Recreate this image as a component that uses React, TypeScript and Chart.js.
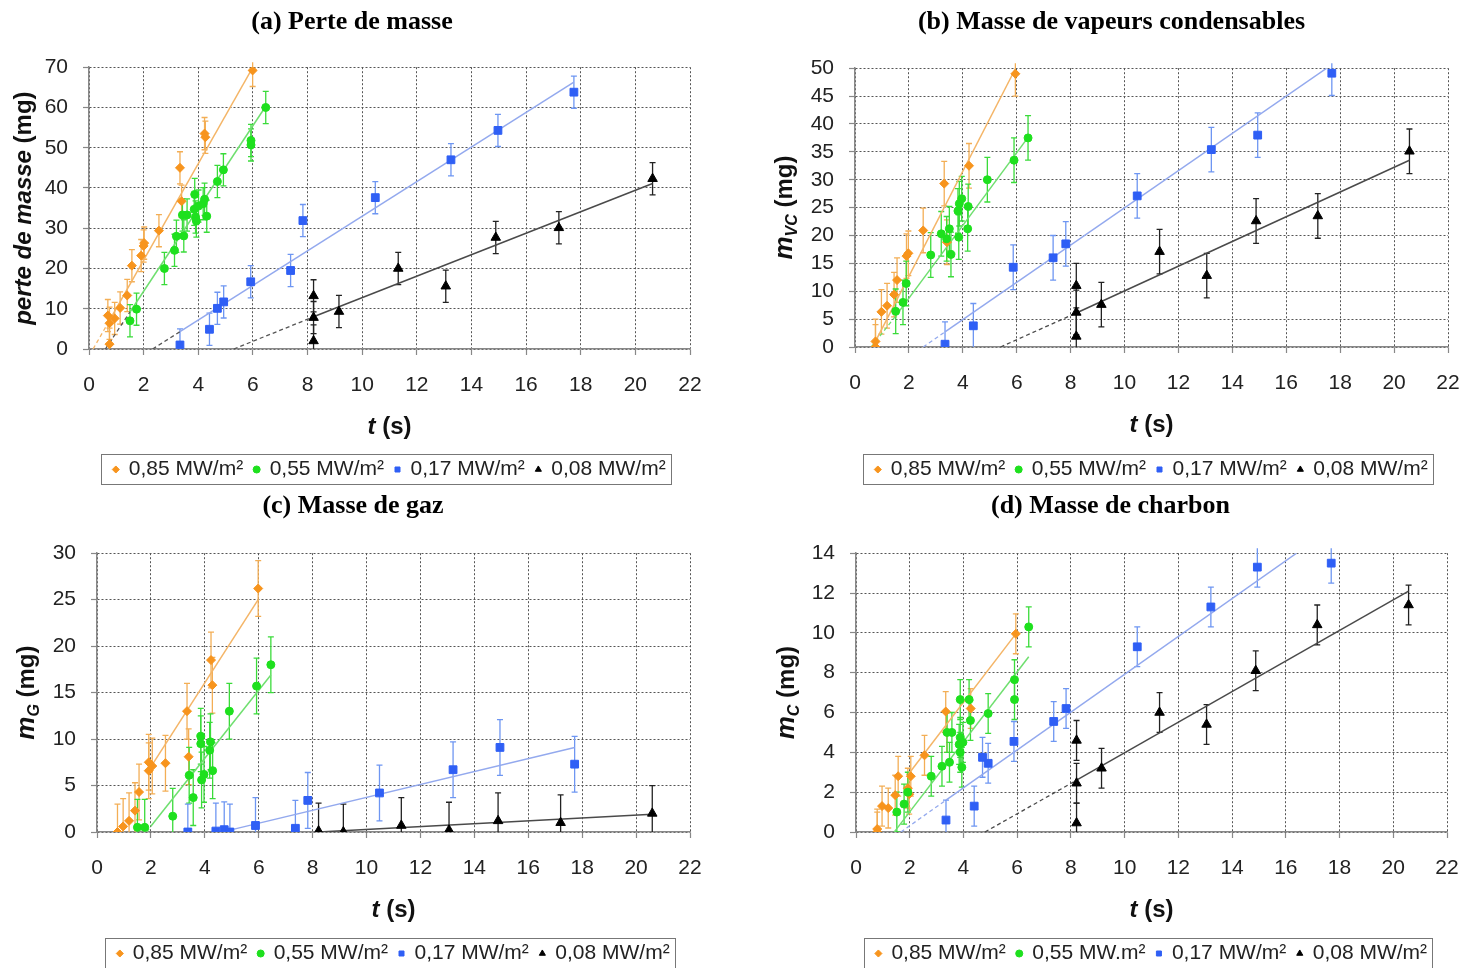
import React, { useEffect, useRef } from 'react';
import { Chart, registerables } from 'chart.js';

Chart.register(...registerables);

// ---------- (a) Perte de masse ----------
const A_X_085 = [0.69, 0.75, 0.75, 0.94, 1.14, 1.40, 1.57, 1.91, 2.0, 2.02, 2.56, 3.33, 3.39, 4.23, 4.26, 5.99];
const A_Y_085 = [8.3, 6.4, 1.2, 7.6, 10.2, 13.3, 20.7, 23.2, 25.6, 26.3, 29.4, 45.0, 36.7, 53.5, 52.6, 69.2];
const A_X_055 = [1.50, 1.74, 2.76, 3.13, 3.20, 3.42, 3.47, 3.59, 3.87, 3.85, 3.90, 3.93, 4.01, 4.18, 4.23, 4.31, 4.70, 4.92, 5.93, 5.93, 6.47];
const A_Y_055 = [7.0, 9.9, 20.0, 24.5, 28.0, 33.3, 28.1, 33.3, 38.4, 34.7, 32.8, 31.8, 35.5, 36.1, 37.2, 33.0, 41.6, 44.5, 51.8, 50.7, 60.0];
const A_X_017 = [3.33, 4.41, 4.70, 4.93, 5.92, 7.38, 7.83, 10.48, 13.25, 14.97, 17.75];
const A_Y_017 = [1.0, 4.9, 10.1, 11.7, 16.7, 19.5, 31.9, 37.6, 47.0, 54.3, 63.8];
const A_X_008 = [8.22, 8.22, 8.22, 9.15, 11.32, 13.06, 14.89, 17.20, 20.63];
const A_Y_008 = [13.2, 7.8, 2.0, 9.3, 20.0, 15.6, 27.7, 30.1, 42.3];
// fitted lines: [x at y=0 (dashed start), solid start, solid end]
const A_FX_085 = [0.15, 0.7, 6.0];
const A_FY_085 = [0, 6.5, 70];
const A_FX_055 = [0.6, 1.5, 6.47];
const A_FY_055 = [0, 9.2, 60.3];
const A_FX_017 = [2.33, 3.33, 17.75];
const A_FY_017 = [0, 4.3, 66.3];
const A_FX_008 = [5.3, 8.22, 20.63];
const A_FY_008 = [0, 8.0, 41.1];

// ---------- (b) Masse de vapeurs condensables ----------
const B_X_085 = [0.76, 0.76, 0.98, 1.19, 1.45, 1.56, 1.91, 1.98, 2.53, 3.31, 3.41, 4.23, 5.95];
const B_Y_085 = [0.0, 1.0, 6.3, 7.4, 9.4, 12.0, 16.3, 16.8, 20.9, 29.3, 18.8, 32.5, 49.0];
const B_X_055 = [1.51, 1.78, 1.90, 2.81, 3.20, 3.40, 3.50, 3.56, 3.82, 3.87, 3.96, 3.85, 4.20, 4.18, 4.91, 5.90, 6.42];
const B_Y_055 = [6.4, 8.0, 11.4, 16.5, 20.3, 19.4, 21.2, 16.6, 24.4, 25.7, 26.6, 19.7, 25.2, 21.2, 30.0, 33.5, 37.5];
const B_X_017 = [3.34, 4.39, 5.87, 7.35, 7.82, 10.47, 13.22, 14.94, 17.69];
const B_Y_017 = [0.5, 3.8, 14.3, 16.0, 18.5, 27.1, 35.4, 38.0, 49.1];
const B_X_008 = [8.21, 8.21, 8.21, 9.14, 11.30, 13.05, 14.88, 17.17, 20.57];
const B_Y_008 = [11.0, 6.2, 1.9, 7.6, 17.1, 12.8, 22.6, 23.5, 35.1];
const B_FX_085 = [0.65, 0.76, 5.95];
const B_FY_085 = [0, 1.0, 49.9];
const B_FX_055 = [0.6, 1.5, 6.42];
const B_FY_055 = [0, 5.5, 37.6];
const B_FX_017 = [2.53, 3.34, 17.5];
const B_FY_017 = [0, 2.7, 50];
const B_FX_008 = [5.4, 8.21, 20.57];
const B_FY_008 = [0, 6.1, 33.5];

// ---------- (c) Masse de gaz ----------
const C_X_085 = [0.76, 0.97, 1.19, 1.41, 1.56, 1.92, 1.92, 2.05, 2.54, 3.34, 3.40, 4.23, 4.28, 5.98];
const C_Y_085 = [0.0, 0.6, 1.2, 2.3, 4.3, 6.6, 7.5, 7.1, 7.4, 13.0, 8.1, 18.5, 15.8, 26.2];
const C_X_055 = [1.50, 1.77, 2.81, 3.42, 3.57, 3.85, 3.85, 3.88, 3.97, 4.18, 4.21, 4.29, 4.91, 5.92, 6.45];
const C_Y_055 = [0.5, 0.5, 1.7, 6.1, 3.7, 10.3, 9.5, 5.6, 6.2, 8.8, 9.7, 6.6, 13.0, 15.7, 18.0];
const C_X_017 = [3.37, 4.41, 4.72, 4.93, 5.88, 7.36, 7.82, 10.48, 13.21, 14.95, 17.72];
const C_Y_017 = [0.0, 0.1, 0.25, 0.0, 0.7, 0.4, 3.4, 4.2, 6.7, 9.1, 7.3];
const C_X_008 = [8.22, 9.14, 11.29, 13.06, 14.88, 17.20, 20.60];
const C_Y_008 = [0.1, 0.0, 0.7, 0.2, 1.2, 1.0, 2.0];
const C_FX_085 = [1.95, 1.95, 5.98];
const C_FY_085 = [6.8, 6.8, 25.0];
const C_FX_055 = [1.85, 1.99, 6.45];
const C_FY_055 = [0, 0.6, 16.9];
const C_FX_017 = [4.93, 4.93, 17.72];
const C_FY_017 = [0.2, 0.2, 9.1];
const C_FX_008 = [8.22, 8.22, 20.6];
const C_FY_008 = [0, 0, 1.9];

// ---------- (d) Masse de charbon ----------
const D_X_085 = [0.79, 0.79, 0.97, 1.20, 1.46, 1.57, 1.93, 1.98, 2.04, 2.55, 3.34, 3.38, 4.27, 5.95];
const D_Y_085 = [0.0, 0.15, 1.3, 1.2, 1.85, 2.8, 2.2, 1.9, 2.8, 3.85, 6.05, 5.0, 6.2, 9.95];
const D_X_055 = [1.52, 1.79, 1.93, 2.80, 3.20, 3.39, 3.57, 3.48, 3.84, 3.88, 3.98, 3.88, 3.94, 3.88, 4.21, 4.26, 4.92, 5.90, 5.90, 6.43];
const D_Y_055 = [1.0, 1.4, 2.0, 2.8, 3.3, 5.0, 5.0, 3.5, 4.4, 4.75, 4.5, 4.0, 3.25, 6.65, 6.65, 5.6, 5.95, 7.65, 6.65, 10.3];
const D_X_017 = [3.35, 4.40, 4.71, 4.92, 5.88, 7.36, 7.82, 10.47, 13.21, 14.94, 17.69];
const D_Y_017 = [0.6, 1.3, 3.75, 3.45, 4.55, 5.55, 6.2, 9.3, 11.3, 13.3, 13.5];
const D_X_008 = [8.21, 8.21, 8.21, 9.14, 11.30, 13.05, 14.88, 17.17, 20.57];
const D_Y_008 = [4.6, 2.45, 0.45, 3.2, 6.0, 5.4, 8.1, 10.4, 11.4];
const D_FX_085 = [1.95, 1.95, 5.95];
const D_FY_085 = [2.9, 2.9, 9.95];
const D_FX_055 = [1.42, 1.52, 6.43];
const D_FY_055 = [0, 0.17, 8.8];
const D_FX_017 = [1.67, 3.35, 16.4];
const D_FY_017 = [0, 1.6, 14];
const D_FX_008 = [4.8, 8.21, 20.57];
const D_FY_008 = [0, 2.6, 12.1];

// ---------- labels / scales ----------
const TITLES = ['(a) Perte de masse', '(b) Masse de vapeurs condensables', '(c) Masse de gaz', '(d) Masse de charbon'];
const LEGEND_LABELS = ['0,85 MW/m²', '0,55 MW/m²', '0,17 MW/m²', '0,08 MW/m²'];
const LEGEND_LABELS_D = ['0,85 MW/m²', '0,55 MW.m²', '0,17 MW/m²', '0,08 MW/m²'];
const Y_MAX = [70, 50, 30, 14];
const Y_STEP = [10, 5, 5, 2];
const X_MAX = 22;
const X_STEP = 2;
const ERR = [4, 4, 3, 1];
const Y_TITLE_MAIN = ['perte de masse', 'm', 'm', 'm'];
const Y_TITLE_SUB = ['', 'VC', 'G', 'C'];

const PANEL_DATA = [
  { xs: [A_X_085, A_X_055, A_X_017, A_X_008], ys: [A_Y_085, A_Y_055, A_Y_017, A_Y_008],
    fx: [A_FX_085, A_FX_055, A_FX_017, A_FX_008], fy: [A_FY_085, A_FY_055, A_FY_017, A_FY_008] },
  { xs: [B_X_085, B_X_055, B_X_017, B_X_008], ys: [B_Y_085, B_Y_055, B_Y_017, B_Y_008],
    fx: [B_FX_085, B_FX_055, B_FX_017, B_FX_008], fy: [B_FY_085, B_FY_055, B_FY_017, B_FY_008] },
  { xs: [C_X_085, C_X_055, C_X_017, C_X_008], ys: [C_Y_085, C_Y_055, C_Y_017, C_Y_008],
    fx: [C_FX_085, C_FX_055, C_FX_017, C_FX_008], fy: [C_FY_085, C_FY_055, C_FY_017, C_FY_008] },
  { xs: [D_X_085, D_X_055, D_X_017, D_X_008], ys: [D_Y_085, D_Y_055, D_Y_017, D_Y_008],
    fx: [D_FX_085, D_FX_055, D_FX_017, D_FX_008], fy: [D_FY_085, D_FY_055, D_FY_017, D_FY_008] },
];

// ---------- styles ----------
const POINT_COLORS = ['#F7941D', '#1EE01E', '#2F5FF5', '#000000'];
const ERR_COLORS = ['#F3AE55', '#3ADB3A', '#6E96F2', '#222222'];
const FIT_COLORS = ['#F4B567', '#6FDF6F', '#93A9EE', '#4A4A4A'];
const POINT_STYLES = ['rectRot', 'circle', 'rect', 'triangle'];
const POINT_RADII = [4.5, 4, 5.5, 5.5];
const DRAW_ORDER = [4, 3, 2, 1];
const SANS = '"Liberation Sans", Arial, sans-serif';

const LAYOUT = [
  { left: 0, top: 0, width: 739, padL: 14, padR: 49, yWidth: 75, titleTop: 7, titleBottom: 29, xHeight: 99, yTitleOff: 66, darkDash: true },
  { left: 739, top: 0, width: 740, padL: 36, padR: 31, yWidth: 80, titleTop: 7, titleBottom: 30, xHeight: 101, yTitleOff: 71, darkDash: false },
  { left: 0, top: 484, width: 739, padL: 16, padR: 49, yWidth: 81, titleTop: 7, titleBottom: 31, xHeight: 100, yTitleOff: 71, darkDash: false },
  { left: 739, top: 484, width: 740, padL: 35, padR: 32, yWidth: 82, titleTop: 7, titleBottom: 31, xHeight: 100, yTitleOff: 70, darkDash: false },
];
const CANVAS_H = 490;

type Seg = { text: string; font: string; dy: number };

function drawSegments(ctx: CanvasRenderingContext2D, segs: Seg[], cx: number, cy: number, rotate: boolean) {
  ctx.save();
  ctx.translate(cx, cy);
  if (rotate) ctx.rotate(-Math.PI / 2);
  ctx.textAlign = 'left';
  ctx.textBaseline = 'alphabetic';
  ctx.fillStyle = '#111';
  let total = 0;
  const ws = segs.map((s) => {
    ctx.font = s.font;
    const w = ctx.measureText(s.text).width;
    total += w;
    return w;
  });
  let x = -total / 2;
  segs.forEach((s, i) => {
    ctx.font = s.font;
    ctx.fillText(s.text, x, s.dy);
    x += ws[i];
  });
  ctx.restore();
}

function Panel({ idx }: { idx: number }) {
  const ref = useRef<HTMLCanvasElement | null>(null);
  const L = LAYOUT[idx];

  useEffect(() => {
    if (!ref.current) return;
    const pd = PANEL_DATA[idx];
    const labels = idx === 3 ? LEGEND_LABELS_D : LEGEND_LABELS;
    const err = ERR[idx];
    const datasets: any[] = [];
    for (let k = 0; k < 4; k++) {
      datasets.push({
        label: labels[k],
        data: pd.xs[k].map((x, i) => ({ x, y: pd.ys[k][i] })),
        pointStyle: POINT_STYLES[k],
        pointRadius: POINT_RADII[k],
        pointHoverRadius: POINT_RADII[k],
        backgroundColor: POINT_COLORS[k],
        borderColor: POINT_COLORS[k],
        borderWidth: 1,
        showLine: false,
        order: DRAW_ORDER[k],
        errColor: ERR_COLORS[k],
      });
    }
    for (let k = 0; k < 4; k++) {
      const fx = pd.fx[k];
      const fy = pd.fy[k];
      const dashColor = L.darkDash && k > 0 ? '#555555' : FIT_COLORS[k];
      datasets.push({
        label: '',
        isFit: true,
        data: [{ x: fx[0], y: fy[0] }, { x: fx[1], y: fy[1] }],
        showLine: true,
        pointRadius: 0,
        borderColor: dashColor,
        borderWidth: 1.3,
        borderDash: [4, 3],
        order: 20,
      });
      datasets.push({
        label: '',
        isFit: true,
        data: [{ x: fx[1], y: fy[1] }, { x: fx[2], y: fy[2] }],
        showLine: true,
        pointRadius: 0,
        borderColor: FIT_COLORS[k],
        borderWidth: 1.5,
        order: 20,
      });
    }

    const extras = {
      id: 'extras' + idx,
      beforeDatasetsDraw(chart: any) {
        const ctx = chart.ctx;
        const ya = chart.scales.y;
        const a = chart.chartArea;
        ctx.save();
        ctx.beginPath();
        ctx.rect(a.left - 5, a.top - 5, a.right - a.left + 10, a.bottom - a.top + 5);
        ctx.clip();
        chart.data.datasets.forEach((ds: any, i: number) => {
          if (!ds.errColor) return;
          const meta = chart.getDatasetMeta(i);
          ctx.strokeStyle = ds.errColor;
          ctx.lineWidth = 1.3;
          meta.data.forEach((pt: any, j: number) => {
            const v = ds.data[j].y;
            const x = pt.x;
            const y1 = ya.getPixelForValue(v + err);
            const y2 = ya.getPixelForValue(v - err);
            ctx.beginPath();
            ctx.moveTo(x, y1);
            ctx.lineTo(x, y2);
            ctx.moveTo(x - 3, y1);
            ctx.lineTo(x + 3, y1);
            ctx.moveTo(x - 3, y2);
            ctx.lineTo(x + 3, y2);
            ctx.stroke();
          });
        });
        ctx.restore();
      },
      afterDraw(chart: any) {
        const ctx = chart.ctx;
        const a = chart.chartArea;
        // y axis title
        const ySegs: Seg[] = [];
        if (Y_TITLE_SUB[idx]) {
          ySegs.push({ text: Y_TITLE_MAIN[idx], font: `italic bold 26px ${SANS}`, dy: 8 });
          ySegs.push({ text: Y_TITLE_SUB[idx], font: `italic bold 16px ${SANS}`, dy: 13 });
        } else {
          ySegs.push({ text: Y_TITLE_MAIN[idx], font: `italic bold 24px ${SANS}`, dy: 8 });
        }
        ySegs.push({ text: ' (mg)', font: `bold 24px ${SANS}`, dy: 8 });
        drawSegments(ctx, ySegs, a.left - L.yTitleOff, (a.top + a.bottom) / 2, true);
        // x axis title
        drawSegments(ctx, [
          { text: 't', font: `italic bold 24px ${SANS}`, dy: 8 },
          { text: ' (s)', font: `bold 24px ${SANS}`, dy: 8 },
        ], (a.left + a.right) / 2, a.bottom + 77, false);
        // legend frame
        const lg = chart.legend;
        const hb = lg && lg.legendHitBoxes;
        if (hb && hb.length) {
          const first = hb[0];
          const last = hb[hb.length - 1];
          const cy = first.top + first.height / 2;
          const x0 = Math.round(first.left - 12) + 0.5;
          const x1 = Math.round(last.left + last.width + 5) + 0.5;
          const y0 = Math.round(cy - 16) + 0.5;
          ctx.save();
          ctx.strokeStyle = '#777';
          ctx.lineWidth = 1;
          ctx.strokeRect(x0, y0, x1 - x0, 30);
          ctx.restore();
        }
      },
    };

    const gridOpts = { color: '#555', lineWidth: 1, tickLength: 6, tickColor: '#888', tickWidth: 1.2, drawTicks: true };
    const borderOpts = { display: true, color: '#888', width: 1.5, dash: [2, 2] };

    const chart = new Chart(ref.current, {
      type: 'scatter',
      data: { datasets },
      options: {
        animation: false,
        responsive: false,
        events: [],
        layout: { padding: { left: L.padL, right: L.padR, top: 0, bottom: 0 } },
        scales: {
          x: {
            type: 'linear',
            min: 0,
            max: X_MAX,
            ticks: { stepSize: X_STEP, autoSkip: false, maxRotation: 0, padding: 18, color: '#222', font: { family: SANS, size: 21 } },
            grid: gridOpts,
            border: borderOpts,
            afterFit: (s: any) => { s.height = L.xHeight; },
          },
          y: {
            type: 'linear',
            min: 0,
            max: Y_MAX[idx],
            ticks: { stepSize: Y_STEP[idx], autoSkip: false, padding: 15, color: '#222', font: { family: SANS, size: 21 } },
            grid: gridOpts,
            border: borderOpts,
            afterFit: (s: any) => { s.width = L.yWidth; },
          },
        },
        plugins: {
          tooltip: { enabled: false },
          title: {
            display: true,
            text: TITLES[idx],
            color: '#000',
            font: { family: '"Liberation Serif", "Times New Roman", serif', size: 26, weight: 'bold' },
            padding: { top: L.titleTop, bottom: L.titleBottom },
          },
          legend: {
            display: true,
            position: 'bottom',
            fullSize: false,
            labels: {
              usePointStyle: true,
              boxWidth: 5,
              boxHeight: 5,
              padding: 11,
              color: '#222',
              font: { family: SANS, size: 21 },
              filter: (item: any, data: any) => !data.datasets[item.datasetIndex].isFit,
              sort: (a: any, b: any) => a.datasetIndex - b.datasetIndex,
            },
          },
        },
      } as any,
      plugins: [extras],
    } as any);
    return () => chart.destroy();
  }, [idx]);

  return (
    <div style={{ position: 'absolute', left: L.left, top: L.top, width: L.width, height: CANVAS_H }}>
      <canvas ref={ref} width={L.width} height={CANVAS_H} style={{ width: L.width, height: CANVAS_H, display: 'block' }} />
    </div>
  );
}

export default function App() {
  return (
    <div style={{ position: 'absolute', left: 0, top: 0, width: 1479, height: 968, overflow: 'hidden', background: '#fff' }}>
      {[0, 1, 2, 3].map((i) => (
        <Panel key={i} idx={i} />
      ))}
    </div>
  );
}
